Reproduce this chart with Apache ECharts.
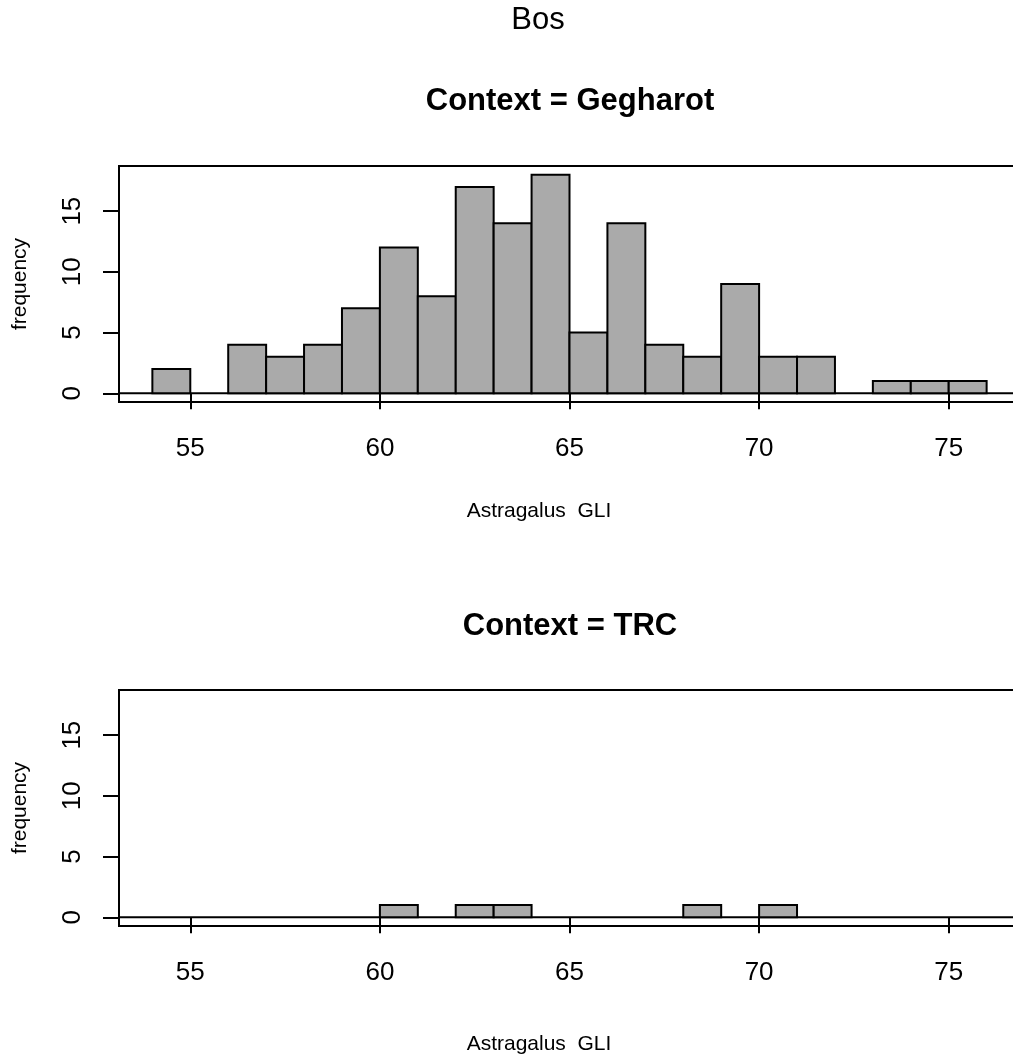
<!DOCTYPE html>
<html>
<head>
<meta charset="utf-8">
<script src="https://cdn.jsdelivr.net/npm/echarts@6/dist/echarts.min.js"></script>
<style>
  html, body { margin: 0; padding: 0; background: #fff; }
  #chart { width: 1013px; height: 1061px; }
</style>
</head>
<body>
<div id="chart"></div>
<script>
// Histogram bins of width 1 (left edges), Astragalus GLI
const binEdges = [54, 55, 56, 57, 58, 59, 60, 61, 62, 63, 64, 65, 66, 67, 68, 69, 70, 71, 72, 73, 74, 75, 76];
const gegharotCounts = [2, 0, 4, 3, 4, 7, 12, 8, 17, 14, 18, 5, 14, 4, 3, 9, 3, 3, 0, 1, 1, 1];
const trcCounts = [0, 0, 0, 0, 0, 0, 1, 0, 1, 1, 0, 0, 0, 0, 1, 0, 1, 0, 0, 0, 0, 0];
const xTicks = [55, 60, 65, 70, 75];
const yTicks = [0, 5, 10, 15];
const panelTitles = ['Context = Gegharot', 'Context = TRC'];

// axis ranges padded by 4% like base R graphics
const xMin = 53.12, xMax = 76.88;
const yMin = -0.72, yMax = 18.72;

const FONT = '"Liberation Sans", Arial, Helvetica, sans-serif';
const LW = 2;

function binData(counts) {
  const out = [];
  counts.forEach((c, i) => {
    if (c > 0) out.push([binEdges[i], binEdges[i + 1], c]);
  });
  return out;
}

function renderBin(params, api) {
  const p0 = api.coord([api.value(0), api.value(2)]);
  const p1 = api.coord([api.value(1), 0]);
  return {
    type: 'rect',
    shape: { x: p0[0], y: p0[1], width: p1[0] - p0[0], height: p1[1] - p0[1] },
    style: { fill: '#aaaaaa', stroke: '#000', lineWidth: LW }
  };
}

const gridTops = [166, 690];
const gridH = 236;

// the plot box runs past the right edge of the page
const grids = gridTops.map(t => ({
  left: 119, top: t, width: 901, height: gridH,
  show: true, borderColor: '#000', borderWidth: LW, backgroundColor: 'transparent',
  containLabel: false, outerBoundsMode: 'none'
}));

const xAxes = gridTops.map((t, i) => ({
  type: 'value', gridIndex: i, min: xMin, max: xMax,
  splitLine: { show: false },
  axisLine: { show: false },
  axisTick: { show: true, length: 16, inside: false, customValues: xTicks,
              lineStyle: { color: '#000', width: LW } },
  axisLabel: { show: true, customValues: xTicks, margin: 34, color: '#000',
               fontFamily: FONT, fontSize: 26, lineHeight: 26 }
}));

const yAxes = gridTops.map((t, i) => ({
  type: 'value', gridIndex: i, min: yMin, max: yMax,
  splitLine: { show: false },
  axisLine: { show: false },
  axisTick: { show: true, length: 16, inside: false, customValues: yTicks,
              lineStyle: { color: '#000', width: LW } },
  axisLabel: { show: true, customValues: yTicks, rotate: 90, margin: 33, color: '#000',
               fontFamily: FONT, fontSize: 26, lineHeight: 26 },
  name: 'frequency', nameLocation: 'middle', nameRotate: 90, nameGap: 88,
  nameTextStyle: { color: '#000', fontFamily: FONT, fontSize: 21, lineHeight: 21 }
}));

const series = [];
[gegharotCounts, trcCounts].forEach((counts, i) => {
  series.push({
    type: 'line', xAxisIndex: i, yAxisIndex: i, silent: true,
    data: [[xMin, 0], [xMax, 0]], symbol: 'none',
    lineStyle: { color: '#000', width: LW }, z: 1
  });
  series.push({
    type: 'custom', xAxisIndex: i, yAxisIndex: i, silent: true,
    data: binData(counts), renderItem: renderBin,
    encode: { x: [0, 1], y: 2 }, z: 2
  });
});

const titles = [
  { text: 'Bos', left: 538, top: 5, textAlign: 'center',
    textStyle: { fontFamily: FONT, fontSize: 31, lineHeight: 31, fontWeight: 'normal', color: '#000' } },
  { text: panelTitles[0], left: 570, top: 86, textAlign: 'center',
    textStyle: { fontFamily: FONT, fontSize: 31, lineHeight: 31, fontWeight: 'bold', color: '#000' } },
  { text: panelTitles[1], left: 570, top: 611, textAlign: 'center',
    textStyle: { fontFamily: FONT, fontSize: 31, lineHeight: 31, fontWeight: 'bold', color: '#000' } },
  { text: 'Astragalus  GLI', left: 539, top: 501, textAlign: 'center',
    textStyle: { fontFamily: FONT, fontSize: 21, lineHeight: 21, fontWeight: 'normal', color: '#000' } },
  { text: 'Astragalus  GLI', left: 539, top: 1034, textAlign: 'center',
    textStyle: { fontFamily: FONT, fontSize: 21, lineHeight: 21, fontWeight: 'normal', color: '#000' } }
].map(t => Object.assign({ padding: 0, itemGap: 0 }, t));

const chart = echarts.init(document.getElementById('chart'), null, { renderer: 'canvas' });
chart.setOption({
  backgroundColor: '#fff',
  animation: false,
  title: titles,
  grid: grids,
  xAxis: xAxes,
  yAxis: yAxes,
  series: series
});
</script>
</body>
</html>
